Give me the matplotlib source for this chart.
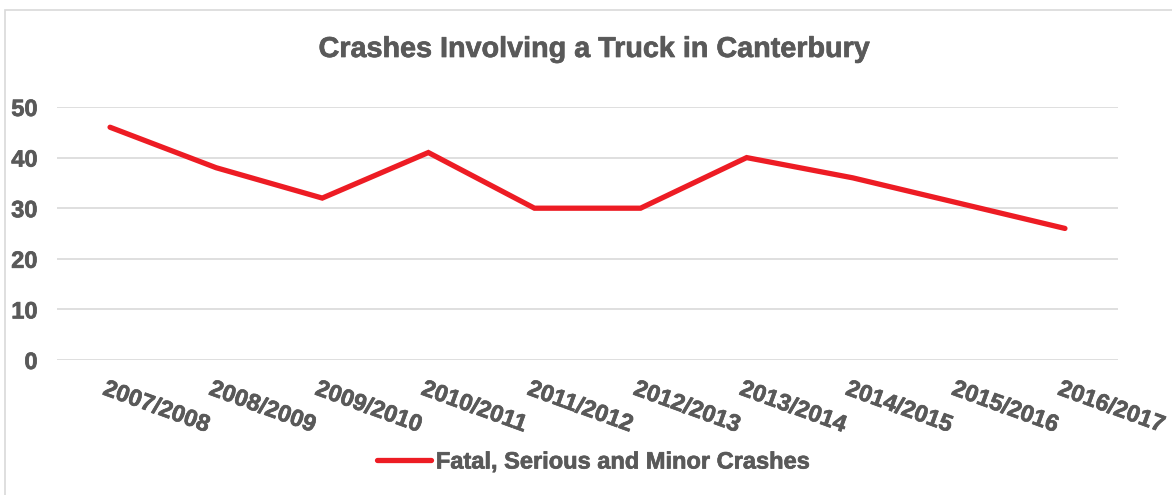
#!/usr/bin/env python3

import matplotlib.pyplot as plt
import matplotlib.patheffects as pe
from matplotlib.lines import Line2D
from matplotlib.patches import Rectangle

# Data
years = ["2007/2008", "2008/2009", "2009/2010", "2010/2011", "2011/2012",
         "2012/2013", "2013/2014", "2014/2015", "2015/2016", "2016/2017"]
crashes = [46, 38, 32, 41, 30, 30, 40, 36, 31, 26]
series_name = "Fatal, Serious and Minor Crashes"

grey = "#595959"
red = "#ED1C24"
# Slight stroke to get the heavier look of the original bold text
heavy = [pe.withStroke(linewidth=0.5, foreground=grey)]

plt.rcParams["font.family"] = ["Liberation Sans", "DejaVu Sans"]
plt.rcParams["font.weight"] = "bold"

fig = plt.figure(figsize=(11.72, 4.95), dpi=100)
ax = fig.add_axes([57 / 1172, 1 - 360 / 495, (1118 - 57) / 1172, (360 - 107) / 495])

x = range(len(years))
ax.plot(x, crashes, color=red, linewidth=3.8, solid_capstyle="round",
        solid_joinstyle="miter", zorder=3)

# Axes styling
ax.set_xlim(-0.5, len(years) - 0.5)
ax.set_ylim(0, 50)
ax.set_yticks(range(0, 51, 10))
ax.yaxis.grid(True, color="#D9D9D9", linewidth=1.2)
ax.set_axisbelow(True)
for s in ax.spines.values():
    s.set_visible(False)
ax.tick_params(axis="both", length=0, colors=grey, labelsize=17)
ax.tick_params(axis="y", pad=14)
for lbl in ax.get_yticklabels():
    lbl.set_fontweight("bold")
    lbl.set_path_effects(heavy)

# Rotated category labels
ax.set_xticks(list(x))
ax.set_xticklabels([])
for i, yr in enumerate(years):
    ax.text(i - 0.02, -3.4, yr, rotation=-20, rotation_mode="anchor",
            ha="left", va="top", fontsize=17, fontweight="bold", color=grey,
            path_effects=heavy)

# Title
fig.text(594 / 1172, 1 - 49 / 495, "Crashes Involving a Truck in Canterbury",
         ha="center", va="center", fontsize=20.7, fontweight="bold", color=grey,
         path_effects=heavy)

# Legend
handle = Line2D([], [], color=red, linewidth=3.8, solid_capstyle="round")
leg = fig.legend([handle], [series_name], loc="center",
                 bbox_to_anchor=(594 / 1172, 1 - 462 / 495),
                 frameon=False, handlelength=2.3, handletextpad=0.2,
                 prop={"size": 17, "weight": "bold"}, labelcolor=grey)
for t in leg.get_texts():
    t.set_path_effects(heavy)

# Chart border
fig.patches.append(Rectangle((5 / 1172, -0.01), 1.2, 1 - 10 / 495 + 0.01,
                             transform=fig.transFigure, fill=False,
                             edgecolor="#D9D9D9", linewidth=1.2))

fig.savefig("out.png", dpi=100)
